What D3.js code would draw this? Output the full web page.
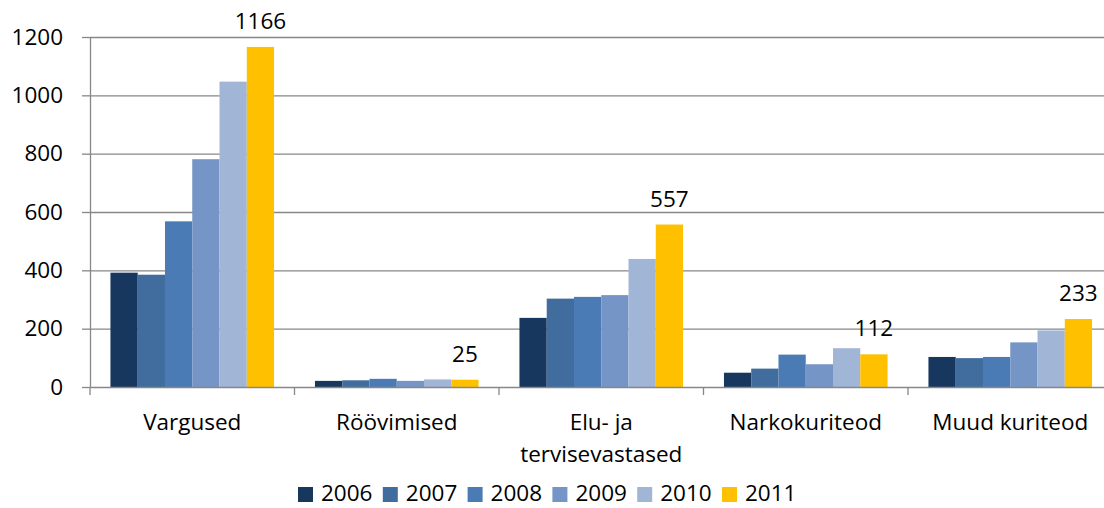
<!DOCTYPE html>
<html>
<head>
<meta charset="utf-8">
<script src="https://cdn.jsdelivr.net/npm/d3@7"></script>
<style>
    body { margin: 0; background: #fff; }
    text { font-family: 'Open Sans', sans-serif; fill: #000; }
</style>
</head>
<body>
<div id="chart"></div>
<script>
// # Data.
let categories = ['Vargused', 'Röövimised', 'Elu- ja\ntervisevastased', 'Narkokuriteod', 'Muud kuriteod']
let years = ['2006', '2007', '2008', '2009', '2010', '2011']
let v2006 = [392, 21, 237, 49, 103]
let v2007 = [385, 23, 303, 63, 99]
let v2008 = [568, 28, 309, 111, 103]
let v2009 = [781, 21, 315, 78, 153]
let v2010 = [1047, 26, 439, 133, 194]
let v2011 = [1166, 25, 557, 112, 233]
let yTicks = [0, 200, 400, 600, 800, 1000, 1200]
let colors = ['#17375e', '#416c9e', '#4a7bb5', '#7495c5', '#a1b5d7', '#ffc000']

let series = [v2006, v2007, v2008, v2009, v2010, v2011]
let labelled = '2011'

// # Layout.
let width = 1104, height = 508
let plotLeft = 90, plotTop = 37, plotBottom = 387
let bandStep = 204.5
let plotRight = plotLeft + bandStep * categories.length
let gridColor = '#878787'
let fontSize = 22.5

let svg = d3.select('#chart')
    .append('svg')
    .attr('width', width)
    .attr('height', height)

// # Scales.
let x0 = d3.scaleBand()
    .domain(categories)
    .range([plotLeft, plotRight])
    .paddingInner(0.2)
    .paddingOuter(0.1)
let x1 = d3.scaleBand()
    .domain(years)
    .range([0, x0.bandwidth()])
let y = d3.scaleLinear()
    .domain([0, 1200])
    .range([plotBottom, plotTop])

// # Gridlines.
svg.append('g')
    .attr('transform', `translate(${plotLeft},0)`)
    .call(d3.axisLeft(y).tickValues(yTicks.slice(1)).tickSize(-(plotRight - plotLeft)).tickFormat(''))
    .call(g => g.select('.domain').remove())
    .selectAll('line')
    .attr('stroke', gridColor)
    .attr('stroke-width', 1.3)

// # Bars.
let rows = []
categories.forEach((c, i) => {
    years.forEach((yr, j) => rows.push({cat: c, year: yr, value: series[j][i], color: colors[j]}))
})
svg.append('g')
    .selectAll('rect')
    .data(rows)
    .enter().append('rect')
    .attr('x', d => x0(d.cat) + x1(d.year))
    .attr('y', d => y(d.value))
    .attr('width', x1.bandwidth())
    .attr('height', d => y(0) - y(d.value))
    .attr('fill', d => d.color)

// # Value labels on the last year.
svg.append('g')
    .selectAll('text')
    .data(rows.filter(d => d.year == labelled))
    .enter().append('text')
    .attr('x', d => x0(d.cat) + x1(d.year) + x1.bandwidth() / 2)
    .attr('y', d => y(d.value) - 18)
    .attr('text-anchor', 'middle')
    .style('font-size', fontSize + 'px')
    .text(d => d.value)

// # Y axis.
let yAxis = svg.append('g')
    .attr('transform', `translate(${plotLeft},0)`)
    .call(d3.axisLeft(y).tickValues(yTicks).tickFormat(d3.format('d'))
        .tickSize(8).tickPadding(19).tickSizeOuter(0))
yAxis.selectAll('line').attr('stroke', gridColor).attr('stroke-width', 1.3)
yAxis.select('.domain').attr('stroke', gridColor).attr('stroke-width', 1.3)
yAxis.selectAll('text').style('font-size', fontSize + 'px').attr('fill', '#000')

// # X axis with ticks on the band edges.
let xAxis = svg.append('g')
    .attr('transform', `translate(0,${plotBottom})`)
    .call(d3.axisBottom(x0).tickSize(0).tickSizeOuter(0).tickFormat(''))
xAxis.select('.domain').attr('stroke', gridColor).attr('stroke-width', 1.3)
xAxis.selectAll('.edge')
    .data(d3.range(categories.length + 1))
    .enter().append('line')
    .attr('class', 'edge')
    .attr('x1', i => plotLeft + i * x0.step())
    .attr('x2', i => plotLeft + i * x0.step())
    .attr('y1', 0)
    .attr('y2', 8)
    .attr('stroke', gridColor)
    .attr('stroke-width', 1.3)
xAxis.selectAll('.tick').each(function(c) {
    let t = d3.select(this).append('text')
        .attr('text-anchor', 'middle')
        .style('font-size', fontSize + 'px')
    c.split('\n').forEach((line, k) => {
        t.append('tspan')
            .attr('x', 0)
            .attr('y', 43 + k * 31.7)
            .text(line)
    })
})

// # Legend.
let legend = svg.append('g')
    .selectAll('g')
    .data(years)
    .enter().append('g')
    .attr('transform', (d, i) => `translate(${298 + i * 84.8},0)`)
legend.append('rect')
    .attr('x', 0)
    .attr('y', 487)
    .attr('width', 15)
    .attr('height', 15)
    .attr('fill', (d, i) => colors[i])
legend.append('text')
    .attr('x', 23)
    .attr('y', 501)
    .style('font-size', fontSize + 'px')
    .text(d => d)
</script>
</body>
</html>
